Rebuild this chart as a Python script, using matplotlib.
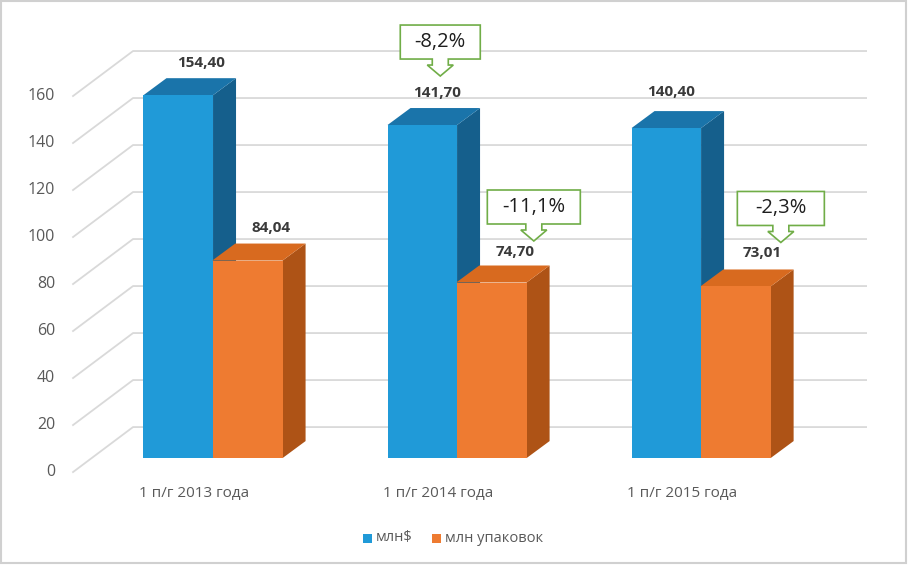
import matplotlib
matplotlib.use('Agg')
import matplotlib.pyplot as plt
from matplotlib.patches import Polygon, Rectangle
from matplotlib.lines import Line2D
from matplotlib.transforms import IdentityTransform

# ---------------- data ----------------
categories = ['1 п/г 2013 года', '1 п/г 2014 года', '1 п/г 2015 года']
series_names = ['млн$', 'млн упаковок']
usd = [154.40, 141.70, 140.40]
packs = [84.04, 74.70, 73.01]
usd_change = [None, '-8,2%', None]
packs_change = [None, '-11,1%', '-2,3%']
yticks = [0, 20, 40, 60, 80, 100, 120, 140, 160]

# ---------------- style ----------------
plt.rcParams['font.family'] = ['Open Sans', 'DejaVu Sans']
BLUE = ('#209AD8', '#1A74AA', '#155F8C')      # front, top, side
ORANGE = ('#EE7B31', '#D86A1F', '#AE5316')
GRID = '#D9D9D9'
TXT = '#595959'
LBL = '#3A3A3A'
GREEN = '#70AD47'

FLOOR_FRONT = (-18.6, -14.0)   # display-pixel offset of floor front edge
BAR_BACK = (23.0, 17.0)        # bar depth
WALL = (41.4, 31.0)            # back wall offset
BAR_W = 0.285

fig = plt.figure(figsize=(9.08, 5.65), dpi=100)
ax = fig.add_axes([0, 0, 1, 1])
ax.set_xlim(-0.873, 2.848)
ax.set_ylim(-45.5, 194.9)
ax.axis('off')
ID = IdentityTransform()


def P(x, v, off=(0.0, 0.0)):
    d = ax.transData.transform((x, v))
    return (d[0] + off[0], d[1] + off[1])


# ---------------- gridlines (3D wall + floor slant) ----------------
x_wall_l, x_wall_r = -0.4975, 2.5066
for v in yticks:
    a = P(x_wall_l, v, FLOOR_FRONT)
    b = P(x_wall_l, v, WALL)
    c = P(x_wall_r, v, WALL)
    ax.add_line(Line2D([a[0], b[0], c[0]], [a[1], b[1], c[1]], transform=ID,
                       color=GRID, lw=1.3, zorder=1))
    ax.text(a[0] - 18, a[1], str(v), transform=ID, ha='right', va='center',
            fontsize=11.5, color=TXT)


# ---------------- bars ----------------
def bar3d(x0, x1, v, cols, z, overlap=0.0):
    fl, fr = P(x0, 0), P(x1, 0)
    tl, tr = P(x0, v), P(x1, v)
    bx, by = BAR_BACK
    side = [fr, tr, (tr[0] + bx, tr[1] + by), (fr[0] + bx, fr[1] + by)]
    tl2 = (tl[0] - overlap, tl[1])
    top = [tl2, tr, (tr[0] + bx, tr[1] + by), (tl2[0] + bx, tl2[1] + by)]
    front = [fl, fr, tr, tl]
    ax.add_patch(Polygon(side, closed=True, transform=ID, fc=cols[2], ec='none', zorder=z))
    ax.add_patch(Polygon(top, closed=True, transform=ID, fc=cols[1], ec='none', zorder=z))
    ax.add_patch(Polygon(front, closed=True, transform=ID, fc=cols[0], ec='none', zorder=z))


def fmt(v):
    return f'{v:.2f}'.replace('.', ',')


def callout(tip, text, w):
    tx, ty = tip
    bot, top = ty + 17, ty + 51
    L, R = tx - w / 2, tx + w / 2
    pts = [(L, top), (R, top), (R, bot), (tx + 8, bot), (tx + 8, ty + 11),
           (tx + 13, ty + 11), (tx, ty), (tx - 13, ty + 11), (tx - 8, ty + 11),
           (tx - 8, bot), (L, bot)]
    ax.add_patch(Polygon(pts, closed=True, transform=ID, fc='white', ec=GREEN,
                         lw=1.2, zorder=10))
    ax.text(tx, (bot + top) / 2, text, transform=ID, ha='center', va='center',
            fontsize=14.5, color='#1E1E1E', zorder=11)


label_nudge = [(0, 0), (-8, 0), (-18, 3)]      # (blue, orange) x-nudge in px
label_rise = [(15, 16), (15, 13.5), (19, 16)]
callout_shift = {('usd', 1): (3, 17, 80), ('packs', 1): (19, 11, 93), ('packs', 2): (19, 11, 87)}

for i, cat in enumerate(categories):
    bar3d(i - BAR_W, i, usd[i], BLUE, 3 + 2 * i)
    bar3d(i, i + BAR_W, packs[i], ORANGE, 4 + 2 * i, overlap=0.8)
    for j, (vals, key, x0, ch) in enumerate([(usd, 'usd', i - BAR_W, usd_change),
                                             (packs, 'packs', i, packs_change)]):
        v = vals[i]
        p = P(x0 + BAR_W / 2, v, BAR_BACK)
        lx = p[0] + label_nudge[i][j]
        ly = p[1] + label_rise[i][j]
        ax.text(lx, ly, fmt(v), transform=ID, ha='center', va='center',
                fontsize=11, fontweight='bold', color=LBL, zorder=9)
        if ch[i] is not None:
            dx, dy, w = callout_shift[(key, i)]
            callout((lx + dx, ly + dy), ch[i], w)
    c = P(i, 0, FLOOR_FRONT)
    ax.text(c[0], c[1] - 21, cat, transform=ID, ha='center', va='center',
            fontsize=11, color=TXT)

# ---------------- legend ----------------
leg_y = 565 - 538
leg_items = [(363, BLUE[0], series_names[0]), (432, ORANGE[0], series_names[1])]
for x, col, name in leg_items:
    ax.add_patch(Rectangle((x, leg_y - 4.5), 9, 9, transform=ID, fc=col, ec='none'))
    ax.text(x + 13, leg_y, name, transform=ID, ha='left', va='center',
            fontsize=10.5, color=TXT)

# frame
fig.patches.append(Rectangle((0.001, 0.003), 0.997, 0.995, transform=fig.transFigure,
                             fill=False, ec='#D0D0D0', lw=1.5))

fig.savefig('out.png', dpi=100)
